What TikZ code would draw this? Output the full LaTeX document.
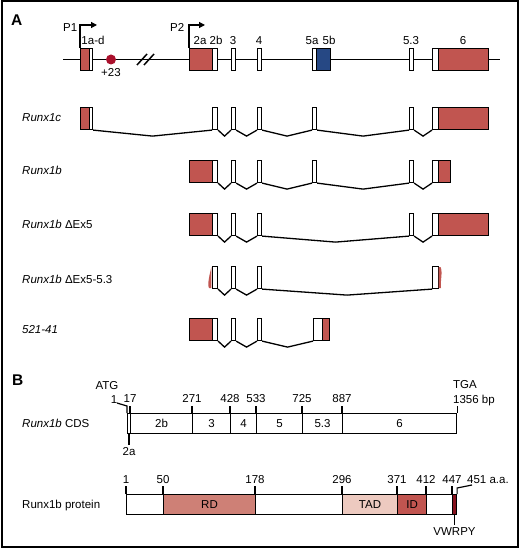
\documentclass[tikz,border=0pt]{standalone}
\usepackage{fontspec}
\setmainfont{Liberation Sans}
\usepackage{tikz}
\usetikzlibrary{arrows.meta, calc}
\definecolor{exonred}{RGB}{193,85,80}
\definecolor{dotred}{RGB}{170,16,44}
\definecolor{exonblue}{RGB}{38,72,132}
\definecolor{rdred}{RGB}{206,128,118}
\definecolor{tadpink}{RGB}{237,202,192}
\definecolor{vwred}{RGB}{135,18,30}
\tikzstyle{exon} = [rectangle, draw=black, line width=1.1pt, inner sep=0pt, minimum height=22pt, anchor=north west]
\tikzstyle{segment} = [rectangle, draw=black, line width=1.1pt, inner sep=0pt, minimum height=20pt, anchor=north west, font=\fontsize{11.5}{13}\selectfont]
\tikzstyle{splice} = [line width=1.3pt, line join=miter]
\tikzstyle{gline} = [line width=1.5pt]
\tikzstyle{tickline} = [line width=1.2pt]
\tikzstyle{numlbl} = [inner sep=0pt, font=\fontsize{11.5}{13}\selectfont]
\tikzstyle{rowlbl} = [inner sep=0pt, anchor=base west, font=\fontsize{11.5}{13}\selectfont]
\tikzstyle{panel} = [inner sep=0pt, anchor=base west, font=\fontsize{15.5}{18}\selectfont\bfseries]
\tikzstyle{prom} = [line width=1.2pt, -{Triangle[length=6pt,width=6pt]}]
\newcommand{\exon}[5]{\node[exon, fill=#5, minimum width={(#3-#2)*1pt}] (#1) at (#2,#4) {};}
\newcommand{\cdsseg}[6]{\node[segment, fill=#5, minimum width={(#3-#2)*1pt}] (#1) at (#2,#4) {#6};}
\newcommand{\splice}[2]{\draw[splice] (#1.south east) -- ($(#1.south east)!0.5!(#2.south west)+(0,6)$) -- (#2.south west);}

\begin{document}
\begin{tikzpicture}[x=1pt, y=-1pt]
\useasboundingbox (0,0) rectangle (520,548);
\draw[line width=2pt] (1.5,1.5) rectangle (517.5,546.5);

% Panel A: Runx1 locus
\node[panel] (pa) at (11,26) {A};
\coordinate (gstart) at (63,59.5);
\coordinate (gend) at (500,59.5);
\draw[gline] (gstart) -- (gend);
\draw[gline] (137,65) -- (147,54) (144,65) -- (154,54);
\exon{g1}{80}{89}{48}{exonred}
\exon{g1w}{89}{92}{48}{white}
\exon{g2a}{189}{212}{48}{exonred}
\exon{g2b}{212}{217}{48}{white}
\exon{g3}{231}{235}{48}{white}
\exon{g4}{257}{261}{48}{white}
\exon{g5a}{312}{316}{48}{white}
\exon{g5b}{316}{330}{48}{exonblue}
\exon{g53}{409}{413}{48}{white}
\exon{g6w}{432}{438}{48}{white}
\exon{g6}{438}{488}{48}{exonred}
\node[circle, fill=dotred, inner sep=0pt, minimum size=10pt] (cpg) at (111,59.5) {};
\node[numlbl, anchor=base] (cpglbl) at (111,77) {+23};

% Promoters
\coordinate (p1tip) at (97,25);
\coordinate (p2tip) at (205,25);
\draw[prom] (g1.north west) |- (p1tip);
\draw[prom] (g2a.north west) |- (p2tip);
\node[numlbl, anchor=base west] (p1) at (63,32) {P1};
\node[numlbl, anchor=base west] (p2) at (170,32) {P2};

% Exon names
\foreach \x/\t in {93/1a-d, 200/2a, 216/2b, 233/3, 259/4, 312/5a, 329/5b, 411/5.3, 463/6}
  \node[numlbl, anchor=base] at (\x,45) {\t};

% Transcripts
\node[rowlbl] (lc) at (22,122) {\textit{Runx1c}};
\node[rowlbl] (lb) at (22,175) {\textit{Runx1b}};
\node[rowlbl] (ld) at (22,228) {\textit{Runx1b} ΔEx5};
\node[rowlbl] (le) at (22,283) {\textit{Runx1b} ΔEx5-5.3};
\node[rowlbl] (lf) at (22,333) {\textit{521-41}};

\exon{b2a}{189}{212}{160}{exonred}
\exon{d2a}{189}{212}{213}{exonred}
\exon{f2a}{189}{212}{318}{exonred}
\foreach \r/\t in {c/107, b/160, d/213, e/266, f/318} {
  \exon{\r2b}{212}{217}{\t}{white}
  \exon{\r3}{231}{235}{\t}{white}
  \exon{\r4}{257}{261}{\t}{white}
  \splice{\r2b}{\r3}
  \splice{\r3}{\r4}
}

% Runx1c
\exon{c1}{80}{89}{107}{exonred}
\exon{c1w}{89}{92}{107}{white}
\exon{c5a}{312}{316}{107}{white}
\exon{c53}{409}{413}{107}{white}
\exon{c6w}{432}{438}{107}{white}
\exon{c6}{438}{488}{107}{exonred}
\splice{c1w}{c2b}
\splice{c4}{c5a}
\splice{c5a}{c53}
\splice{c53}{c6w}

% Runx1b
\exon{b5a}{312}{316}{160}{white}
\exon{b53}{409}{413}{160}{white}
\exon{b6w}{432}{438}{160}{white}
\exon{b6}{438}{450}{160}{exonred}
\splice{b4}{b5a}
\splice{b5a}{b53}
\splice{b53}{b6w}

% Runx1b dEx5
\exon{d53}{409}{413}{213}{white}
\exon{d6w}{432}{438}{213}{white}
\exon{d6}{438}{488}{213}{exonred}
\splice{d4}{d53}
\splice{d53}{d6w}

% Runx1b dEx5-5.3
\exon{e6w}{432}{438}{266}{white}
\splice{e4}{e6w}
\fill[exonred] (211.4,267) .. controls (210,273) and (207,284) .. (209,288) -- (211.4,288) -- cycle;
\fill[exonred] (438.6,267) -- (440.5,267) .. controls (443,272) and (440,282) .. (441,288) -- (438.6,288) -- cycle;

% 521-41
\exon{f5w}{313}{322}{318}{white}
\exon{f5}{322}{329}{318}{exonred}
\splice{f4}{f5w}

% Panel B: coding sequence
\node[panel] (pb) at (12,385) {B};
\node[rowlbl] (lcds) at (22,427) {\textit{Runx1b} CDS};
\cdsseg{cds2a}{127}{130}{413}{white}{}
\cdsseg{cds2b}{130}{192}{413}{white}{2b}
\cdsseg{cds3}{192}{230}{413}{white}{3}
\cdsseg{cds4}{230}{256}{413}{white}{4}
\cdsseg{cds5}{256}{302}{413}{white}{5}
\cdsseg{cds53}{302}{342}{413}{white}{5.3}
\cdsseg{cds6}{342}{456}{413}{white}{6}
\foreach \x/\t in {130/17, 192/271, 230/428, 256/533, 302/725, 342/887}
  \draw[tickline] (\x,413) -- (\x,406) node[numlbl, above=2.5pt] {\t};
\draw[tickline] (cds2a.north west) -- ++(0,-7) -- (117,403);
\node[numlbl, anchor=base] (cds1) at (114,403) {1};
\node[numlbl, anchor=base] (atg) at (107,389) {ATG};
\draw[tickline] (cds6.north east) -- ++(0,-7);
\node[numlbl, anchor=base west] (tga) at (453,388) {TGA};
\node[numlbl, anchor=base west] (bp) at (453,403) {1356 bp};
\draw[tickline] (cds2a.south) -- ++(0,11) node[numlbl, below=2pt] {2a};

% Protein
\node[rowlbl] (lprot) at (22,508) {Runx1b protein};
\cdsseg{pN}{126}{163}{494}{white}{}
\cdsseg{pRD}{163}{255}{494}{rdred}{RD}
\cdsseg{pM}{255}{342}{494}{white}{}
\cdsseg{pTAD}{342}{397}{494}{tadpink}{TAD}
\cdsseg{pID}{397}{426}{494}{exonred}{ID}
\cdsseg{pC}{426}{452}{494}{white}{}
\cdsseg{pV}{452}{456}{494}{vwred}{}
\foreach \x/\t in {126/1, 163/50, 255/178, 342/296, 397/371, 426/412, 452/447}
  \draw[tickline] (\x,494) -- (\x,486) node[numlbl, above=2pt] {\t};
\coordinate (aaend) at (472,485);
\draw[tickline] (pV.north east) -- ++(0,-6) -- (aaend);
\node[numlbl, anchor=base west] (aa) at (467,483) {451 a.a.};
\draw[tickline] (pV.south) -- ++(0,10) node[numlbl, below=2pt] {VWRPY};
\end{tikzpicture}
\end{document}
